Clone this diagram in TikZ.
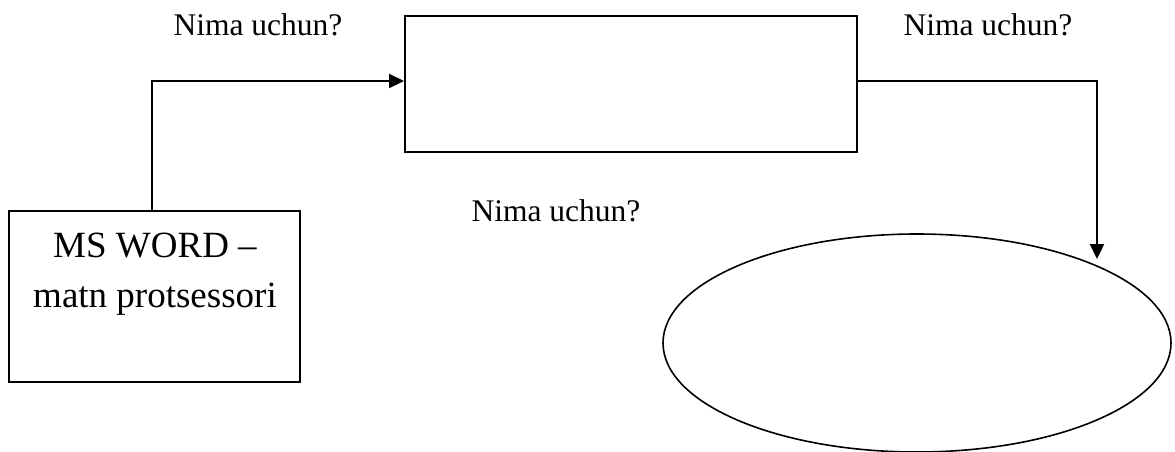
\documentclass[tikz,border=0pt]{standalone}
\usepackage{fontspec}
\setmainfont{Liberation Serif}
\usetikzlibrary{arrows.meta,shapes.geometric}
\tikzset{
  boxstyle/.style={draw,line width=2pt,rectangle,inner sep=0pt},
  ellstyle/.style={draw,line width=1.6pt,ellipse,inner sep=0pt},
  arr/.style={line width=2.3pt,-{Triangle[length=15pt,width=14pt]}},
  lbl/.style={font=\fontsize{31.5}{36}\selectfont,anchor=base,inner sep=0pt},
  big/.style={font=\fontsize{37}{44}\selectfont,anchor=base,inner sep=0pt}
}
\begin{document}
\begin{tikzpicture}[x=1pt,y=-1pt]
\useasboundingbox (0,0) rectangle (1175,451);
\clip (0,0) rectangle (1175,451);
% left box
\node[boxstyle,minimum width=291pt,minimum height=171pt] (word) at (154.5,296.5) {};
\node[big] (t1) at (155,257) {MS WORD –};
\node[big] (t2) at (155,307) {matn protsessori};
% top box
\node[boxstyle,minimum width=452pt,minimum height=136pt] (top) at (631,84) {};
% ellipse
\node[ellstyle,minimum width=508pt,minimum height=218pt] (ell) at (917,343) {};
% labels
\node[lbl] (q1) at (258,35) {Nima uchun?};
\node[lbl] (q2) at (988,35) {Nima uchun?};
\node[lbl] (q3) at (556,221) {Nima uchun?};
% connectors
\coordinate (c1) at (152,81);
\coordinate (e2) at (1097,259);
\draw[arr] ([xshift=-2.5pt]word.north) -- (c1) -- (c1 -| top.west);
\draw[arr] ([yshift=3pt]top.east) -| (e2);
\end{tikzpicture}
\end{document}
